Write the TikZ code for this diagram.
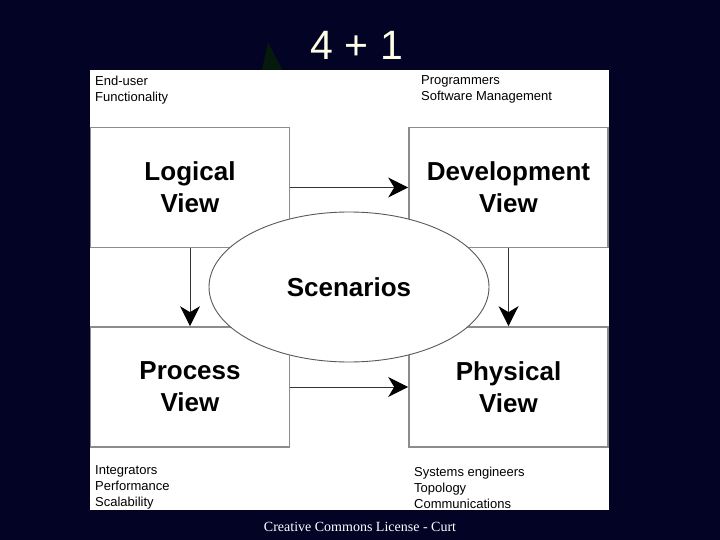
\documentclass[tikz,border=0pt]{standalone}
\usepackage{fontspec}
\setmainfont{Liberation Sans}
\newfontfamily\ccfont{Liberation Serif}
\usetikzlibrary{arrows.meta,shapes.geometric}
\definecolor{navy}{RGB}{3,3,38}
\definecolor{cream}{RGB}{255,255,230}
\definecolor{boxgray}{RGB}{140,140,140}
\definecolor{leaf}{RGB}{6,26,12}
\tikzset{
  viewbox/.style={draw=boxgray,line width=1.6pt,fill=white,minimum width=199pt,minimum height=120pt,inner sep=0pt,align=center,
    font=\fontsize{26}{32}\selectfont\bfseries},
  note/.style={anchor=north west,inner sep=0pt,align=left,font=\fontsize{13}{16}\selectfont},
  arr/.style={draw=black!80,line width=0.9pt,-{Stealth[length=20pt,width=20pt,inset=6pt,color=black]}},
}
\begin{document}
\begin{tikzpicture}[x=1pt,y=-1pt]
\fill[navy] (0,0) rectangle (720,540);
\useasboundingbox (0,0) rectangle (720,540);
\fill[leaf] (268,42) -- (282,70) -- (262,70) -- cycle;
\node[text=cream,font=\fontsize{41}{48}\selectfont] (title) at (357,45) {4 + 1};
\fill[white] (90,70) rectangle (609,510);
\node[viewbox] (logical) at (190,187.5) {Logical\\View};
\node[viewbox] (development) at (508.5,187.5) {Development\\View};
\node[viewbox] (process) at (190,387) {Process\\View};
\node[viewbox] (physical) at (508.5,387) {Physical\\View};
\node[draw=black!65,line width=0.9pt,fill=white,ellipse,minimum width=280pt,minimum height=150pt,inner sep=0pt,
  font=\fontsize{26}{32}\selectfont\bfseries] (scenarios) at (349,287) {Scenarios};
\draw[arr] (logical) -- (development);
\draw[arr] (process) -- (physical);
\draw[arr] (logical) -- (process);
\draw[arr] (development) -- (physical);
\node[note] (enduser) at (95,76) {End-user\\Functionality};
\node[note] (programmers) at (421,75) {Programmers\\Software Management};
\node[note] (integrators) at (95,465) {Integrators\\Performance\\Scalability};
\node[note] (systems) at (414,467) {Systems engineers\\Topology\\Communications};
\node[text=white,font=\ccfont\fontsize{14}{16}\selectfont] (license) at (360,527) {Creative Commons License - Curt};
\end{tikzpicture}
\end{document}
